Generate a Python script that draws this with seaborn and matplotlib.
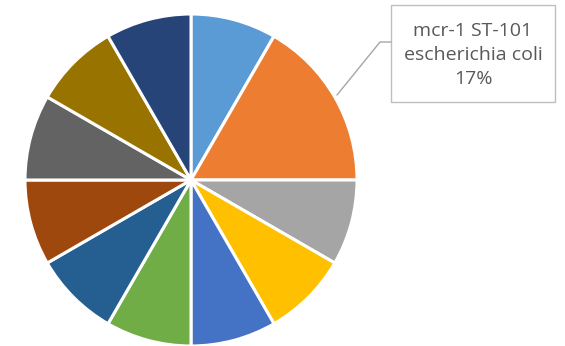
import matplotlib
matplotlib.use("Agg")
import matplotlib.pyplot as plt
from matplotlib.patches import Rectangle
import seaborn as sns

# slice data (clockwise from 12 o'clock)
labels = ['s1', 'mcr-1 ST-101 escherichia coli', 's3', 's4', 's5', 's6',
          's7', 's8', 's9', 's10', 's11']
values = [1, 2, 1, 1, 1, 1, 1, 1, 1, 1, 1]
colors = ['#5B9BD5', '#ED7D31', '#A5A5A5', '#FFC000', '#4472C4', '#70AD47',
          '#255E91', '#9E480E', '#636363', '#997300', '#264478']

sns.set_theme(style="white")
plt.rcParams['font.family'] = ['Open Sans', 'DejaVu Sans']

fig = plt.figure(figsize=(5.65, 3.46), dpi=100)
ax = fig.add_axes([0, 0, 1, 1])

cx, cy, r = 191, 346 - 180, 166
ax.pie(values, colors=sns.color_palette(colors), startangle=90, counterclock=False,
       center=(cx, cy), radius=r, frame=True,
       wedgeprops=dict(edgecolor='white', linewidth=2.2))
ax.set_xlim(0, 565)
ax.set_ylim(0, 346)
ax.set_aspect('equal')
ax.axis('off')

# callout for the large slice
pct = values[1] / sum(values) * 100
ax.plot([337, 380, 391], [346 - 95, 346 - 42, 346 - 42], color='#A6A6A6', lw=1)
ax.add_patch(Rectangle((391, 346 - 102), 164, 97, facecolor='white',
                       edgecolor='#BFBFBF', lw=1))
ax.text(473, 346 - 55, f"mcr-1 ST-101\nescherichia coli\n{pct:.0f}%",
        ha='center', va='center', fontsize=14, color='#595959', linespacing=1.4)

fig.savefig('out.png', dpi=100)
